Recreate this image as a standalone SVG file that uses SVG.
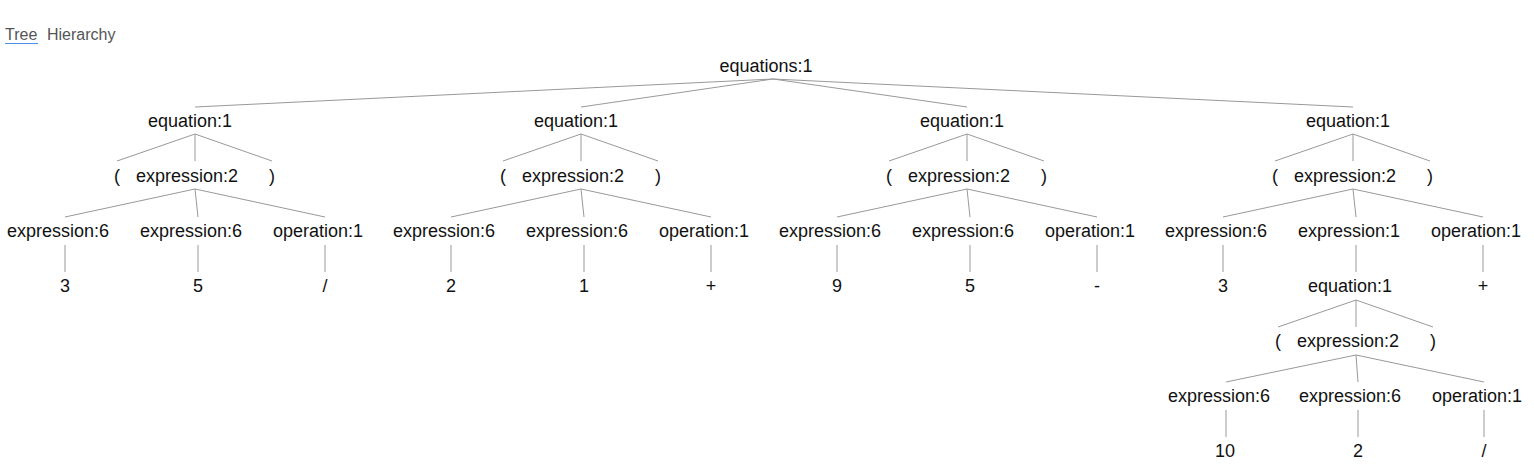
<svg xmlns="http://www.w3.org/2000/svg" width="1534" height="466" viewBox="0 0 1534 466">
<style>
.t{font-family:"Liberation Sans",Arial,sans-serif;font-size:18px;fill:#111;text-anchor:middle}
.tab{font-family:"Liberation Sans",Arial,sans-serif;font-size:16px;fill:#555}
.e{stroke:#999;stroke-width:1;fill:none}
</style>
<rect width="1534" height="466" fill="#fff"/>
<g id="tabs">
<text class="tab" x="5" y="40">Tree</text>
<line x1="5" y1="43.5" x2="38" y2="43.5" stroke="#4a90e2" stroke-width="1"/>
<text class="tab" x="47" y="40">Hierarchy</text>
</g>
<g id="connectors" class="e">
<path d="M773 79L195 107M773 79L581 107M773 79L967 107M773 79L1353 107"/>
<path d="M195 134L117 161M195 134L195 161M195 134L272 161M195 189L65 217M195 189L198 217M195 189L325 217M65 245V272M198 245V272M325 245V272"/>
<path d="M581 134L503 161M581 134L581 161M581 134L658 161M581 189L451 217M581 189L584 217M581 189L711 217M451 245V272M584 245V272M711 245V272"/>
<path d="M967 134L889 161M967 134L967 161M967 134L1044 161M967 189L837 217M967 189L970 217M967 189L1097 217M837 245V272M970 245V272M1097 245V272"/>
<path d="M1353 134L1275 161M1353 134L1353 161M1353 134L1430 161M1353 189L1223 217M1353 189L1356 217M1353 189L1483 217M1223 245V272M1356 245V272M1483 245V272"/>
<path d="M1356 300L1278 327M1356 300L1356 327M1356 300L1433 327M1356 355L1226 382M1356 355L1358 382M1356 355L1484 382M1226 410V437M1358 410V437M1484 410V437"/>
</g>
<g id="n-equations"><text class="t" x="766" y="72">equations:1</text></g>
<g id="s1">
<g id="s1-eq"><text class="t" x="190" y="127">equation:1</text></g>
<g id="s1-lp"><text class="t" x="117" y="182">(</text></g>
<g id="s1-ex"><text class="t" x="187" y="182">expression:2</text></g>
<g id="s1-rp"><text class="t" x="272" y="182">)</text></g>
<g id="s1-c1"><text class="t" x="58" y="237">expression:6</text></g>
<g id="s1-c2"><text class="t" x="191" y="237">expression:6</text></g>
<g id="s1-c3"><text class="t" x="318" y="237">operation:1</text></g>
<g id="s1-l1"><text class="t" x="65" y="292">3</text></g>
<g id="s1-l2"><text class="t" x="198" y="292">5</text></g>
<g id="s1-l3"><text class="t" x="325" y="292">/</text></g>
</g>
<g id="s2">
<g id="s2-eq"><text class="t" x="576" y="127">equation:1</text></g>
<g id="s2-lp"><text class="t" x="503" y="182">(</text></g>
<g id="s2-ex"><text class="t" x="573" y="182">expression:2</text></g>
<g id="s2-rp"><text class="t" x="658" y="182">)</text></g>
<g id="s2-c1"><text class="t" x="444" y="237">expression:6</text></g>
<g id="s2-c2"><text class="t" x="577" y="237">expression:6</text></g>
<g id="s2-c3"><text class="t" x="704" y="237">operation:1</text></g>
<g id="s2-l1"><text class="t" x="451" y="292">2</text></g>
<g id="s2-l2"><text class="t" x="584" y="292">1</text></g>
<g id="s2-l3"><text class="t" x="711" y="292">+</text></g>
</g>
<g id="s3">
<g id="s3-eq"><text class="t" x="962" y="127">equation:1</text></g>
<g id="s3-lp"><text class="t" x="889" y="182">(</text></g>
<g id="s3-ex"><text class="t" x="959" y="182">expression:2</text></g>
<g id="s3-rp"><text class="t" x="1044" y="182">)</text></g>
<g id="s3-c1"><text class="t" x="830" y="237">expression:6</text></g>
<g id="s3-c2"><text class="t" x="963" y="237">expression:6</text></g>
<g id="s3-c3"><text class="t" x="1090" y="237">operation:1</text></g>
<g id="s3-l1"><text class="t" x="837" y="292">9</text></g>
<g id="s3-l2"><text class="t" x="970" y="292">5</text></g>
<g id="s3-l3"><text class="t" x="1097" y="292">-</text></g>
</g>
<g id="s4">
<g id="s4-eq"><text class="t" x="1348" y="127">equation:1</text></g>
<g id="s4-lp"><text class="t" x="1275" y="182">(</text></g>
<g id="s4-ex"><text class="t" x="1345" y="182">expression:2</text></g>
<g id="s4-rp"><text class="t" x="1430" y="182">)</text></g>
<g id="s4-c1"><text class="t" x="1216" y="237">expression:6</text></g>
<g id="s4-c2"><text class="t" x="1349" y="237">expression:1</text></g>
<g id="s4-c3"><text class="t" x="1476" y="237">operation:1</text></g>
<g id="s4-l1"><text class="t" x="1223" y="292">3</text></g>
<g id="s4-l3"><text class="t" x="1483" y="292">+</text></g>
<g id="s5-eq"><text class="t" x="1350" y="292">equation:1</text></g>
<g id="s5-lp"><text class="t" x="1278" y="347">(</text></g>
<g id="s5-ex"><text class="t" x="1348" y="347">expression:2</text></g>
<g id="s5-rp"><text class="t" x="1433" y="347">)</text></g>
<g id="s5-c1"><text class="t" x="1219" y="402">expression:6</text></g>
<g id="s5-c2"><text class="t" x="1350" y="402">expression:6</text></g>
<g id="s5-c3"><text class="t" x="1477" y="402">operation:1</text></g>
<g id="s5-l1"><text class="t" x="1225" y="457">10</text></g>
<g id="s5-l2"><text class="t" x="1358" y="457">2</text></g>
<g id="s5-l3"><text class="t" x="1484" y="457">/</text></g>
</g>
</svg>
